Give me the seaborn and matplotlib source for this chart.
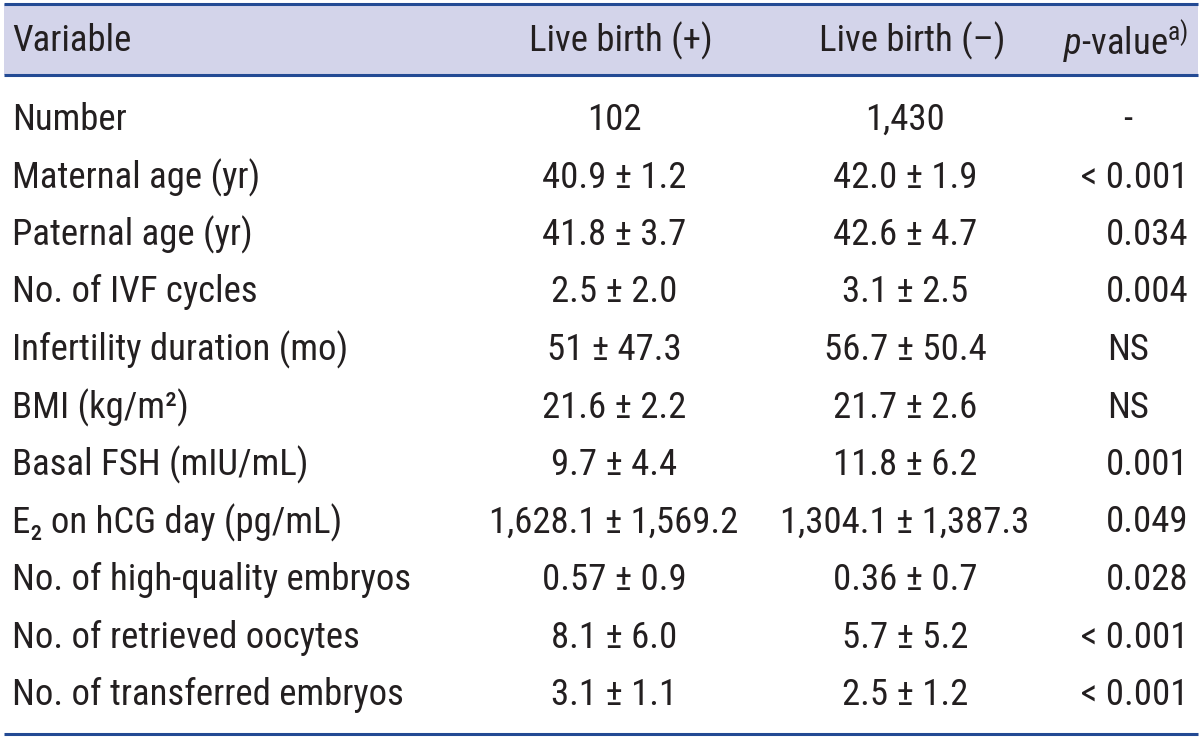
import matplotlib
matplotlib.use("Agg")
import matplotlib.pyplot as plt
import matplotlib.font_manager as fm
import seaborn as sns

# Table content
header = ["Variable", "Live birth (+)", "Live birth (\u2013)", "$\\it{p}$-value$^{\\rm a)}$"]

variables = [
    "Number",
    "Maternal age (yr)",
    "Paternal age (yr)",
    "No. of IVF cycles",
    "Infertility duration (mo)",
    "BMI (kg/m\u00b2)",
    "Basal FSH (mIU/mL)",
    "E\u2082 on hCG day (pg/mL)",
    "No. of high-quality embryos",
    "No. of retrieved oocytes",
    "No. of transferred embryos",
]

live_birth_pos = ["102", "40.9 \u00b1 1.2", "41.8 \u00b1 3.7", "2.5 \u00b1 2.0", "51 \u00b1 47.3",
                  "21.6 \u00b1 2.2", "9.7 \u00b1 4.4", "1,628.1 \u00b1 1,569.2", "0.57 \u00b1 0.9",
                  "8.1 \u00b1 6.0", "3.1 \u00b1 1.1"]

live_birth_neg = ["1,430", "42.0 \u00b1 1.9", "42.6 \u00b1 4.7", "3.1 \u00b1 2.5", "56.7 \u00b1 50.4",
                  "21.7 \u00b1 2.6", "11.8 \u00b1 6.2", "1,304.1 \u00b1 1,387.3", "0.36 \u00b1 0.7",
                  "5.7 \u00b1 5.2", "2.5 \u00b1 1.2"]

p_values = ["-", "< 0.001", "0.034", "0.004", "NS", "NS", "0.001", "0.049", "0.028",
            "< 0.001", "< 0.001"]

# pick a narrow font if there is one
installed = {f.name for f in fm.fontManager.ttflist}
font = next(n for n in ["Liberation Sans Narrow", "Roboto Condensed", "Liberation Sans", "DejaVu Sans"]
            if n in installed)

sns.set_theme(style="white")
plt.rcParams["font.family"] = [font, "DejaVu Sans"]
plt.rcParams["mathtext.fontset"] = "custom"
plt.rcParams["mathtext.rm"] = font
plt.rcParams["mathtext.it"] = font + ":italic"

text_color = "#231f20"
line_color = "#234a94"
band_color = "#d3d4ea"
fs = 26.5

fig = plt.figure(figsize=(12, 7.4), dpi=100)
ax = fig.add_axes([0, 0, 1, 1])
ax.set_xlim(0, 1200)
ax.set_ylim(740, 0)
ax.axis("off")

# header band and rules
ax.fill_between([4, 1198], 4, 75, color=band_color, lw=0)
for y in (4, 75, 734):
    ax.plot([4, 1198], [y, y], color=line_color, lw=2.2, solid_capstyle="butt")

# header
hy = 41
ax.text(12, hy, header[0], fontsize=fs, color=text_color, va="center", ha="left")
ax.text(621, hy, header[1], fontsize=fs, color=text_color, va="center", ha="center")
ax.text(912, hy, header[2], fontsize=fs, color=text_color, va="center", ha="center")
ax.text(1188, hy, header[3], fontsize=fs, color=text_color, va="center", ha="right")

# body rows
row0, step = 120, 57.5
for i, (v, a, b, p) in enumerate(zip(variables, live_birth_pos, live_birth_neg, p_values)):
    y = row0 + step * i
    ax.text(12, y, v, fontsize=fs, color=text_color, va="center", ha="left")
    ax.text(614, y, a, fontsize=fs, color=text_color, va="center", ha="center")
    ax.text(905, y, b, fontsize=fs, color=text_color, va="center", ha="center")
    if p in ("-", "NS"):
        ax.text(1128, y, p, fontsize=fs, color=text_color, va="center", ha="center")
    else:
        ax.text(1188, y, p, fontsize=fs, color=text_color, va="center", ha="right")

fig.savefig("out.png", dpi=100)
plt.close(fig)
